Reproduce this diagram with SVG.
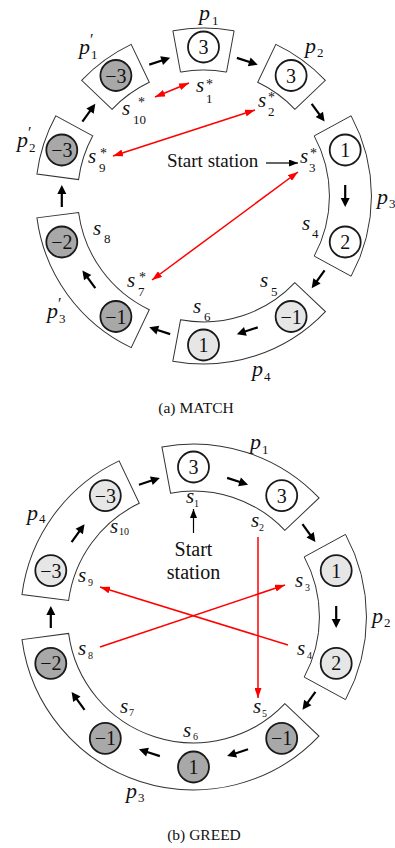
<svg xmlns="http://www.w3.org/2000/svg" xmlns:xlink="http://www.w3.org/1999/xlink" width="395" height="848" viewBox="0 0 395 848">
<style>
.box{fill:#fff;stroke:#333;stroke-width:1}
.st{stroke:#1a1a1a;stroke-width:1.8}
.w{fill:#fff}.l{fill:#e6e6e6}.d{fill:#a8a8a8}
.num{font-family:"Liberation Serif",serif;font-size:20px;text-anchor:middle;fill:#111}
.it{font-family:"Liberation Serif",serif;font-style:italic;font-size:21px;fill:#111}
.pl{font-family:"Liberation Serif",serif;font-style:italic;font-size:22px;fill:#111}
.sb{font-style:normal;font-size:13px}
.sb2{font-style:normal;font-size:10px}
.ast{font-style:normal;font-size:14px}
.pr{font-style:normal;font-size:16px}
.tx{font-family:"Liberation Serif",serif;fill:#111}
.red{stroke:#f00;stroke-width:1.5;fill:none}
.blk{stroke:#000;stroke-width:1.2;fill:none}
</style>
<defs>
<marker id="rh" viewBox="0 0 10 7" refX="10" refY="3.5" markerWidth="10" markerHeight="7" markerUnits="userSpaceOnUse" orient="auto-start-reverse"><path d="M0,0 L10,3.5 L0,7 z" fill="#f00"/></marker>
<marker id="bh" viewBox="0 0 9 7" refX="9" refY="3.5" markerWidth="9" markerHeight="7" markerUnits="userSpaceOnUse" orient="auto"><path d="M0,0 L9,3.5 L0,7 z" fill="#000"/></marker>
<g id="ba"><line x1="-11" y1="0" x2="4" y2="0" stroke="#000" stroke-width="2.2"/><polygon points="2,-4.5 11,0 2,4.5" fill="#000"/></g>
<path id="b1" d="M-30.6,-165.2 A168 168 0 0 1 30.6,-165.2 L23,-123.9 A126 126 0 0 0 -23,-123.9 Z"/>
<path id="b2" d="M-80.2,-147.6 A168 168 0 0 1 80.2,-147.6 L60.1,-110.7 A126 126 0 0 0 -60.1,-110.7 Z"/>
<path id="c2" d="M-82.6,-152 A173 173 0 0 1 82.6,-152 L60.1,-110.7 A126 126 0 0 0 -60.1,-110.7 Z"/>
<path id="c4" d="M-156.1,-74.5 A173 173 0 0 1 156.1,-74.5 L113.7,-54.2 A126 126 0 0 0 -113.7,-54.2 Z"/>
</defs>

<!-- (a) MATCH boxes -->
<g id="a-p1"><use href="#b1" class="box" transform="translate(203.5,196) rotate(0)"/><text class="pl" x="199" y="20">p<tspan class="sb" x="212" y="25">1</tspan></text></g>
<g id="a-p2"><use href="#b1" class="box" transform="translate(203.5,196) rotate(36)"/><text class="pl" x="305" y="53">p<tspan class="sb" x="317" y="57">2</tspan></text></g>
<g id="a-p3"><use href="#b2" class="box" transform="translate(203.5,196) rotate(90)"/><text class="pl" x="377" y="204">p<tspan class="sb" x="389" y="208">3</tspan></text></g>
<g id="a-p4"><use href="#b2" class="box" transform="translate(203.5,196) rotate(162)"/><text class="pl" x="252" y="376">p<tspan class="sb" x="264" y="381">4</tspan></text></g>
<g id="a-p3p"><use href="#b2" class="box" transform="translate(203.5,196) rotate(234)"/><text class="pl" x="47" y="318">p<tspan class="pr" x="58" y="309">′</tspan><tspan class="sb" x="59" y="323">3</tspan></text></g>
<g id="a-p2p"><use href="#b1" class="box" transform="translate(203.5,196) rotate(288)"/><text class="pl" x="17" y="147">p<tspan class="pr" x="28" y="138">′</tspan><tspan class="sb" x="29" y="152">2</tspan></text></g>
<g id="a-p1p"><use href="#b1" class="box" transform="translate(203.5,196) rotate(324)"/><text class="pl" x="79" y="54">p<tspan class="pr" x="90" y="45">′</tspan><tspan class="sb" x="91" y="59">1</tspan></text></g>

<!-- (a) stations -->
<g id="a-s1"><circle class="st w" cx="203.5" cy="47" r="15.5"/><text class="num" x="203.5" y="54">3</text><text class="it" x="196" y="92">s<tspan class="ast" x="206" y="89">*</tspan><tspan class="sb" x="206" y="103">1</tspan></text></g>
<g id="a-s2"><circle class="st w" cx="291.1" cy="75.5" r="15.5"/><text class="num" x="291.1" y="82.5">3</text><text class="it" x="258" y="107">s<tspan class="ast" x="268" y="102">*</tspan><tspan class="sb" x="268" y="116">2</tspan></text></g>
<g id="a-s3"><circle class="st w" cx="345.2" cy="150" r="15.5"/><text class="num" x="345.2" y="157">1</text><text class="it" x="300" y="163">s<tspan class="ast" x="310" y="158">*</tspan><tspan class="sb" x="309" y="172">3</tspan></text></g>
<g id="a-s4"><circle class="st w" cx="345.2" cy="242" r="15.5"/><text class="num" x="345.2" y="249">2</text><text class="it" x="302" y="230">s<tspan class="sb" x="312" y="238">4</tspan></text></g>
<g id="a-s5"><circle class="st l" cx="291.1" cy="316.5" r="15.5"/><text class="num" x="291.1" y="323.5">−1</text><text class="it" x="260" y="287">s<tspan class="sb" x="271" y="296">5</tspan></text></g>
<g id="a-s6"><circle class="st l" cx="203.5" cy="345" r="15.5"/><text class="num" x="203.5" y="352">1</text><text class="it" x="193" y="313">s<tspan class="sb" x="204" y="321">6</tspan></text></g>
<g id="a-s7"><circle class="st d" cx="115.9" cy="316.5" r="15.5"/><text class="num" x="115.9" y="323.5">−1</text><text class="it" x="127" y="287">s<tspan class="ast" x="139" y="282">*</tspan><tspan class="sb" x="138" y="296">7</tspan></text></g>
<g id="a-s8"><circle class="st d" cx="61.8" cy="242" r="15.5"/><text class="num" x="61.8" y="249">−2</text><text class="it" x="93" y="235">s<tspan class="sb" x="104" y="243">8</tspan></text></g>
<g id="a-s9"><circle class="st d" cx="61.8" cy="150" r="15.5"/><text class="num" x="61.8" y="157">−3</text><text class="it" x="88" y="163">s<tspan class="ast" x="100" y="158">*</tspan><tspan class="sb" x="99" y="172">9</tspan></text></g>
<g id="a-s10"><circle class="st d" cx="115.9" cy="75.5" r="15.5"/><text class="num" x="115.9" y="82.5">−3</text><text class="it" x="122" y="115">s<tspan class="ast" x="138" y="107">*</tspan><tspan class="sb" x="133" y="124">10</tspan></text></g>

<g id="a-start"><text class="tx" x="167" y="167" font-size="19">Start station</text></g>
<text class="tx" x="196" y="413" font-size="15.5" text-anchor="middle">(a)  MATCH</text>

<!-- (b) GREED boxes -->
<g id="b-p1"><use href="#c2" class="box" transform="translate(193.5,617) rotate(18)"/><text class="pl" x="250" y="449">p<tspan class="sb" x="262" y="454">1</tspan></text></g>
<g id="b-p2"><use href="#c2" class="box" transform="translate(193.5,617) rotate(90)"/><text class="pl" x="372" y="623">p<tspan class="sb" x="384" y="627">2</tspan></text></g>
<g id="b-p3"><use href="#c4" class="box" transform="translate(193.5,617) rotate(198)"/><text class="pl" x="126" y="798">p<tspan class="sb" x="138" y="802">3</tspan></text></g>
<g id="b-p4"><use href="#c2" class="box" transform="translate(193.5,617) rotate(306)"/><text class="pl" x="27" y="520">p<tspan class="sb" x="39" y="523">4</tspan></text></g>

<!-- (b) stations -->
<g id="b-s1"><circle class="st w" cx="193.5" cy="467" r="15.5"/><text class="num" x="193.5" y="474">3</text><text class="it" x="186" y="503">s<tspan class="sb2" x="194" y="507">1</tspan></text></g>
<g id="b-s2"><circle class="st w" cx="281.7" cy="495.6" r="15.5"/><text class="num" x="281.7" y="502.6">3</text><text class="it" x="251" y="527">s<tspan class="sb2" x="259" y="531">2</tspan></text></g>
<g id="b-s3"><circle class="st l" cx="336.2" cy="570.6" r="15.5"/><text class="num" x="336.2" y="577.6">1</text><text class="it" x="295" y="587">s<tspan class="sb2" x="305" y="591">3</tspan></text></g>
<g id="b-s4"><circle class="st l" cx="336.2" cy="663.4" r="15.5"/><text class="num" x="336.2" y="670.4">2</text><text class="it" x="297" y="655">s<tspan class="sb2" x="307" y="659">4</tspan></text></g>
<g id="b-s5"><circle class="st d" cx="281.7" cy="738.4" r="15.5"/><text class="num" x="281.7" y="745.4">−1</text><text class="it" x="253" y="713">s<tspan class="sb2" x="262" y="717">5</tspan></text></g>
<g id="b-s6"><circle class="st d" cx="193.5" cy="767" r="15.5"/><text class="num" x="193.5" y="774">1</text><text class="it" x="183" y="737">s<tspan class="sb2" x="193" y="740">6</tspan></text></g>
<g id="b-s7"><circle class="st d" cx="105.3" cy="738.4" r="15.5"/><text class="num" x="105.3" y="745.4">−1</text><text class="it" x="120" y="713">s<tspan class="sb2" x="129" y="716">7</tspan></text></g>
<g id="b-s8"><circle class="st d" cx="50.8" cy="663.4" r="15.5"/><text class="num" x="50.8" y="670.4">−2</text><text class="it" x="78" y="655">s<tspan class="sb2" x="88" y="659">8</tspan></text></g>
<g id="b-s9"><circle class="st l" cx="50.8" cy="570.6" r="15.5"/><text class="num" x="50.8" y="577.6">−3</text><text class="it" x="78" y="582">s<tspan class="sb2" x="88" y="586">9</tspan></text></g>
<g id="b-s10"><circle class="st l" cx="105.3" cy="495.6" r="15.5"/><text class="num" x="105.3" y="502.6">−3</text><text class="it" x="110" y="533">s<tspan class="sb2" x="119" y="535">10</tspan></text></g>

<g id="b-start"><text class="tx" x="193.5" y="556" font-size="20" text-anchor="middle">Start</text><text class="tx" x="193.5" y="579" font-size="20" text-anchor="middle">station</text></g>
<text class="tx" x="204" y="840" font-size="15.5" text-anchor="middle">(b)  GREED</text>

<!-- connectors -->
<g id="connectors">
<use href="#ba" transform="translate(203.5,196) rotate(-18) translate(0,-141.7)"/>
<use href="#ba" transform="translate(203.5,196) rotate(18) translate(0,-141.7)"/>
<use href="#ba" transform="translate(203.5,196) rotate(54) translate(0,-141.7)"/>
<use href="#ba" transform="translate(203.5,196) rotate(90) translate(0,-141.7)"/>
<use href="#ba" transform="translate(203.5,196) rotate(126) translate(0,-141.7)"/>
<use href="#ba" transform="translate(203.5,196) rotate(162) translate(0,-141.7)"/>
<use href="#ba" transform="translate(203.5,196) rotate(198) translate(0,-141.7)"/>
<use href="#ba" transform="translate(203.5,196) rotate(234) translate(0,-141.7)"/>
<use href="#ba" transform="translate(203.5,196) rotate(270) translate(0,-141.7)"/>
<use href="#ba" transform="translate(203.5,196) rotate(306) translate(0,-141.7)"/>
<line class="red" x1="155" y1="97" x2="189" y2="83" marker-start="url(#rh)" marker-end="url(#rh)"/>
<line class="red" x1="113" y1="156" x2="255" y2="110" marker-start="url(#rh)" marker-end="url(#rh)"/>
<line class="red" x1="152" y1="280" x2="298" y2="172" marker-start="url(#rh)" marker-end="url(#rh)"/>
<line class="blk" x1="266" y1="163" x2="298" y2="163" marker-end="url(#bh)"/>

<use href="#ba" transform="translate(193.5,617) rotate(-18) translate(0,-142.7)"/>
<use href="#ba" transform="translate(193.5,617) rotate(18) translate(0,-142.7)"/>
<use href="#ba" transform="translate(193.5,617) rotate(54) translate(0,-142.7)"/>
<use href="#ba" transform="translate(193.5,617) rotate(90) translate(0,-142.7)"/>
<use href="#ba" transform="translate(193.5,617) rotate(126) translate(0,-142.7)"/>
<use href="#ba" transform="translate(193.5,617) rotate(162) translate(0,-142.7)"/>
<use href="#ba" transform="translate(193.5,617) rotate(198) translate(0,-142.7)"/>
<use href="#ba" transform="translate(193.5,617) rotate(234) translate(0,-142.7)"/>
<use href="#ba" transform="translate(193.5,617) rotate(270) translate(0,-142.7)"/>
<use href="#ba" transform="translate(193.5,617) rotate(306) translate(0,-142.7)"/>
<line class="red" x1="258" y1="537" x2="258" y2="698" marker-end="url(#rh)"/>
<line class="red" x1="288" y1="645" x2="100" y2="587" marker-end="url(#rh)"/>
<line class="red" x1="100" y1="647" x2="285" y2="585" marker-end="url(#rh)"/>
<line class="blk" x1="193.5" y1="533" x2="193.5" y2="509" marker-end="url(#bh)"/>
</g>
</svg>
